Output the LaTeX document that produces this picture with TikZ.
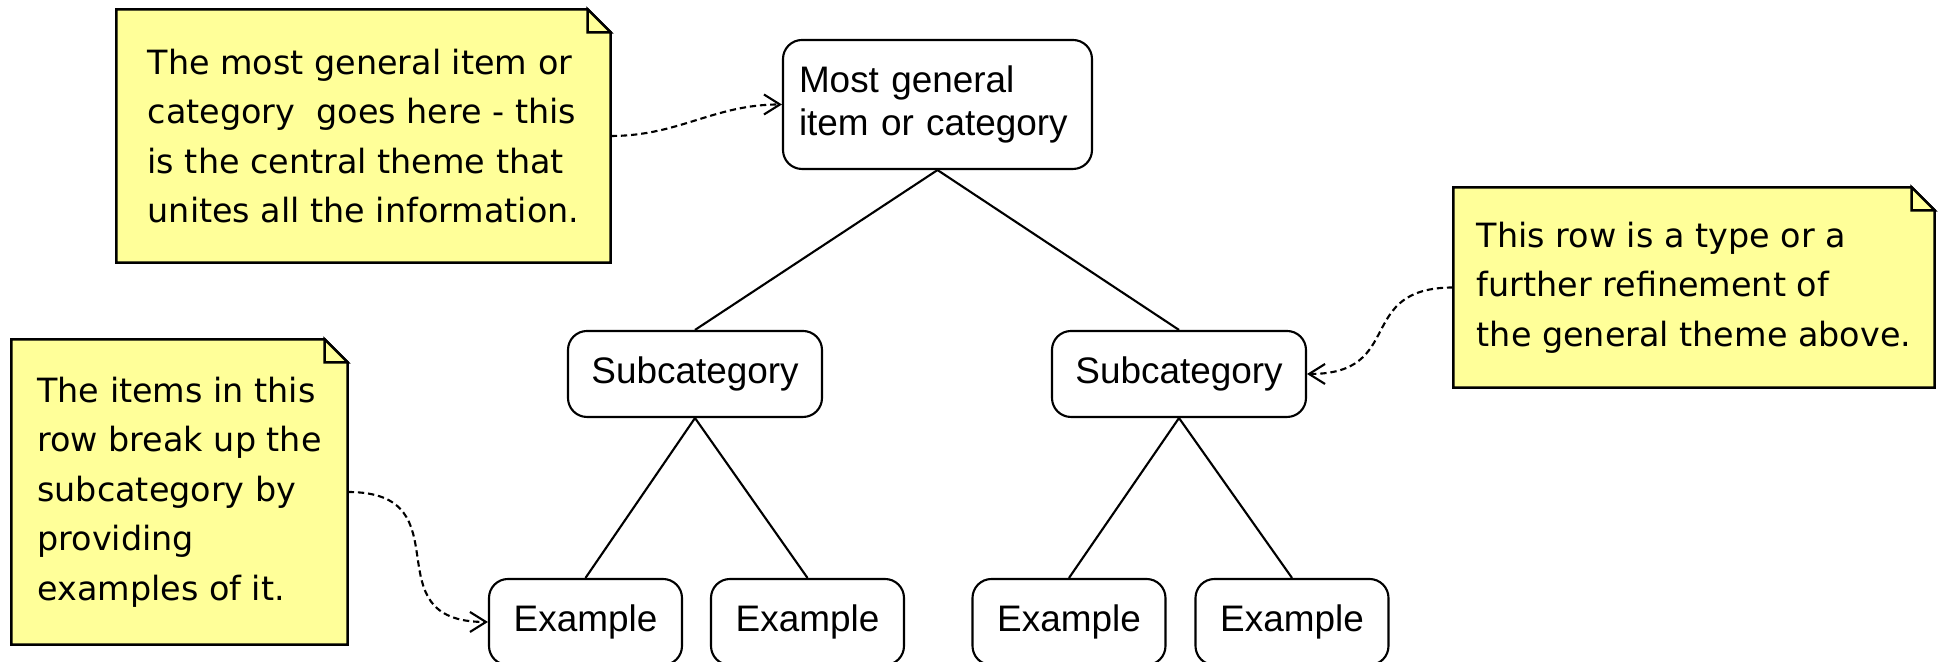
\documentclass[tikz,border=0pt]{standalone}
\usepackage{fontspec}
\setmainfont{Liberation Sans}
\newfontfamily\notefont{DejaVu Sans}
\usepackage{tikz}
\usetikzlibrary{shapes,arrows.meta,positioning,backgrounds,calc}
\definecolor{notefill}{RGB}{255,255,153}
\def\earsize{0.23cm}
\tikzstyle{item} = [rectangle, rounded corners=0.19cm, draw=black, line width=0.6pt,
                    fill=white, font=\fontsize{10.5}{12.3}\selectfont, inner sep=0pt]
\tikzstyle{note} = [rectangle, align=left, inner xsep=0.19cm,
                    font=\notefont\fontsize{9.5}{14.1}\selectfont]
\tikzstyle{notebg} = [fill=notefill, draw=black, line width=0.7pt, line join=miter]
\tikzstyle{branch} = [line width=0.6pt]
\tikzstyle{notearrow} = [line width=0.6pt, dash pattern=on 1.8pt off 1.1pt, ->,
                         >={Straight Barb[length=1.6mm,width=2mm]}]
% yellow sheet with folded corner behind a note node
\newcommand{\dogear}[1]{%
  \begin{scope}[on background layer]
    \filldraw[notebg] (#1.south west) -- (#1.north west) -- ([xshift=-\earsize]#1.north east)
      -- ([yshift=-\earsize]#1.north east) -- (#1.south east) -- cycle;
    \filldraw[notebg] ([xshift=-\earsize]#1.north east) |- ([yshift=-\earsize]#1.north east) -- cycle;
  \end{scope}}

\begin{document}
\begin{tikzpicture}
                \clip (0,0) rectangle (19.39,6.62);
                % Main item
                \node[item, minimum width=3.09cm, minimum height=1.29cm, align=left,
                      text width=2.77cm] (top) at (9.375,5.575) {Most general\\item or category};
                
                % Subcategories
                \node[item, minimum width=2.54cm, minimum height=0.86cm] (sub1) at (6.95,2.88) {Subcategory};
                \node[item, minimum width=2.54cm, minimum height=0.86cm] (sub2) at (11.79,2.88) {Subcategory};
                
                % Examples
                \node[item, minimum width=1.93cm, minimum height=0.86cm] (ex1) at (5.855,0.40) {Example};
                \node[item, minimum width=1.93cm, minimum height=0.86cm] (ex2) at (8.075,0.40) {Example};
                \node[item, minimum width=1.93cm, minimum height=0.86cm] (ex3) at (10.69,0.40) {Example};
                \node[item, minimum width=1.93cm, minimum height=0.86cm] (ex4) at (12.92,0.40) {Example};
                
                % Notes
                \node[note, minimum width=4.93cm, minimum height=2.52cm] (note1) at (3.635,5.26)
                    {The most general item or\\category~ goes here - this\\is the central theme that\\unites all the information.};
                \node[note, minimum width=3.35cm, minimum height=3.04cm] (note2) at (1.795,1.70)
                    {The items in this\\row break up the\\subcategory by\\providing\\examples of it.};
                \node[note, minimum width=4.80cm, minimum height=1.99cm] (note3) at (16.94,3.745)
                    {This row is a type or a\\further refinement of\\the general theme above.};
                \dogear{note1}
                \dogear{note2}
                \dogear{note3}
                
                % Branches
                \draw[branch] (top.south) -- (sub1.north);
                \draw[branch] (top.south) -- (sub2.north);
                \draw[branch] (sub1.south) -- (ex1.north);
                \draw[branch] (sub1.south) -- (ex2.north);
                \draw[branch] (sub2.south) -- (ex3.north);
                \draw[branch] (sub2.south) -- (ex4.north);
                
                % Note arrows
                \draw[notearrow] (note1.east) to[out=0, in=180] (top.west);
                \draw[notearrow] (note2.east) to[out=0, in=180, looseness=1.6] (ex1.west);
                \draw[notearrow] (note3.west) to[out=180, in=0, looseness=1.5] (sub2.east);
            \end{tikzpicture}
\end{document}
